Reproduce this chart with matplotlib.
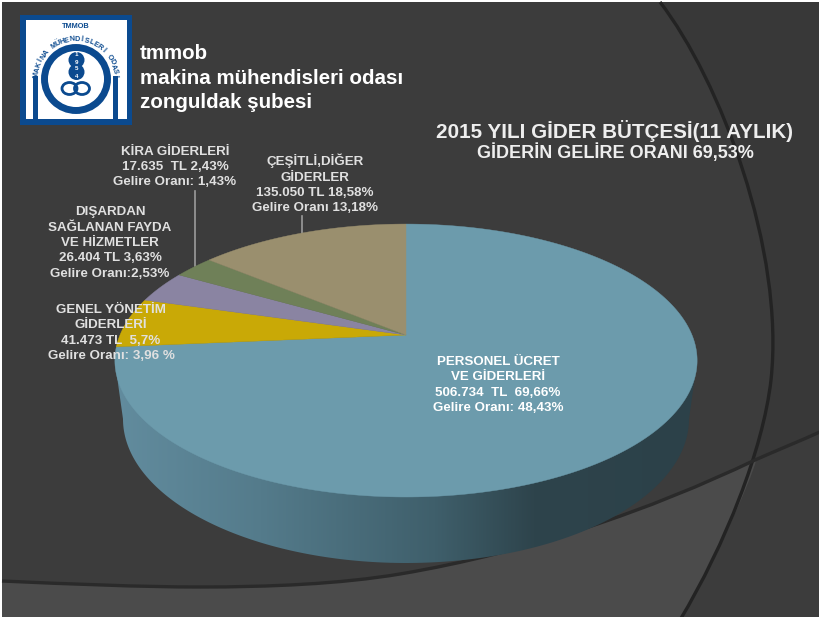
import numpy as np
import matplotlib
matplotlib.use('Agg')
import matplotlib.pyplot as plt
from matplotlib.colors import LinearSegmentedColormap
from matplotlib.patches import Circle, Ellipse, PathPatch, Polygon, Rectangle
from matplotlib.path import Path

plt.rcParams['font.family'] = ['Liberation Sans', 'DejaVu Sans']

# drawn share of each slice (clockwise from 12 o'clock)
categories = ['PERSONEL', 'GENEL YONETIM', 'DISARDAN', 'KIRA', 'CESITLI']
shares = [73.6, 5.9, 3.8, 2.7, 14.0]
slice_colors = ['#6c9bac', '#c9a906', '#8a84a2', '#6f8058', '#9a8f6e']

label_personel = 'PERSONEL ÜCRET\nVE GİDERLERİ\n506.734  TL  69,66%\nGelire Oranı: 48,43%'
label_genel = 'GENEL YÖNETİM\nGİDERLERİ\n41.473 TL  5,7%\nGelire Oranı: 3,96 %'
label_disardan = 'DIŞARDAN\nSAĞLANAN FAYDA\nVE HİZMETLER\n26.404 TL 3,63%\nGelire Oranı:2,53%'
label_kira = 'KİRA GİDERLERİ\n17.635  TL 2,43%\nGelire Oranı: 1,43%'
label_cesitli = 'ÇEŞİTLİ,DİĞER\nGİDERLER\n135.050 TL 18,58%\nGelire Oranı 13,18%'

title_1 = '2015 YILI GİDER BÜTÇESİ(11 AYLIK)'
title_2 = 'GİDERİN GELİRE ORANI 69,53%'
org_lines = 'tmmob\nmakina mühendisleri odası\nzonguldak şubesi'

fig = plt.figure(figsize=(8.19, 6.17), dpi=100, facecolor='white')
ax = fig.add_axes([0, 0, 1, 1])
ax.axis('off')

# background
ax.add_patch(Rectangle((2, 2), 820, 620, fc='#3c3c3c', ec='none', zorder=0))

arc1 = [(660, 2), (720, 80), (785, 250), (771, 380), (763, 450), (725, 545), (680, 620)]
arc2 = [(2, 581), (70, 584), (140, 587), (200, 587), (270, 587), (340, 584), (400, 574),
        (530, 552), (650, 510), (755, 460), (780, 449), (800, 441), (822, 431)]
codes1 = [Path.MOVETO] + [Path.CURVE4] * 6
codes2 = [Path.MOVETO] + [Path.CURVE4] * 12

# darker part right of arc1, lighter part under arc2
right = Path(arc1[:4] + [(755, 460), (822, 431), (822, 2), (660, 2)],
             [Path.MOVETO, Path.CURVE4, Path.CURVE4, Path.CURVE4, Path.LINETO, Path.LINETO, Path.LINETO, Path.CLOSEPOLY])
ax.add_patch(PathPatch(right, fc='#383838', ec='none', zorder=0.5))
light_verts = arc2[:10] + [(763, 450), (725, 545), (680, 620), (2, 620), (2, 581)]
light_codes = codes2[:10] + [Path.CURVE4, Path.CURVE4, Path.CURVE4, Path.LINETO, Path.CLOSEPOLY]
ax.add_patch(PathPatch(Path(light_verts, light_codes), fc='#4b4b4b', ec='none', zorder=0.6))
ax.add_patch(PathPatch(Path(arc1, codes1), fc='none', ec='#232323', lw=2.4, zorder=1))
ax.add_patch(PathPatch(Path(arc2, codes2), fc='none', ec='#2a2a2a', lw=2.4, zorder=1))

# pie side wall
cx, apex_y = 406, 335
R, f, k = 286, 131.7, 0.187


def project(theta):
    # unit circle to screen, near side bigger
    u, v = np.sin(theta), np.cos(theta)
    w = 1 + k * v
    return cx + R * u / w, apex_y - f * v / w


t = np.linspace(0, np.pi, 200)
wall_x = 406 + 283 * np.cos(t)
wall_y = 419 + 144 * np.sin(t)
wall_xy = np.column_stack([np.r_[697, wall_x, 115], np.r_[362, wall_y, 362]])
wall = Polygon(wall_xy, closed=True, fc='none', ec='none', zorder=2)
ax.add_patch(wall)
wall_cmap = LinearSegmentedColormap.from_list('wall', [(0, '#628c9e'), (0.25, '#547b8b'), (0.55, '#3f5f6b'),
                                                       (0.72, '#2e444c'), (1, '#2c4149')])
im = ax.imshow(np.linspace(0, 1, 256)[None, :], extent=(115, 697, 570, 340), cmap=wall_cmap, aspect='auto', zorder=2)
im.set_clip_path(wall)

# pie top
edges = np.radians(np.r_[0, np.cumsum(shares)] / sum(shares) * 360)
for a, b, c in zip(edges[:-1], edges[1:], slice_colors):
    th = np.linspace(a, b, 300)
    px, py = project(th)
    ax.add_patch(Polygon(np.column_stack([np.r_[cx, px], np.r_[apex_y, py]]), closed=True, fc=c, ec=c, lw=0.3, zorder=3))

# leader lines
ax.plot([195, 195], [191, 266], color='#9c9c9c', lw=1.2, zorder=2.5)
ax.plot([302, 302], [216, 234], color='#9c9c9c', lw=1.2, zorder=2.5)

# labels
txt = dict(ha='center', va='center', fontsize=9.6, fontweight='bold', color='#e0e0e0', linespacing=1.38, zorder=5)
ax.text(175, 167, label_kira, **txt)
ax.text(315, 184, label_cesitli, **txt)
ax.text(110, 243, label_disardan, **txt)
ax.text(111, 333, label_genel, **txt)
ax.text(498, 385, label_personel, **{**txt, 'color': 'white'})

ax.text(615, 131, title_1, ha='center', va='center', fontsize=14.9, fontweight='bold', color='#eeeeee', zorder=5)
ax.text(615, 153, title_2, ha='center', va='center', fontsize=13, fontweight='bold', color='#eeeeee', zorder=5)
ax.text(140, 78, org_lines, ha='left', va='center', fontsize=14.8, fontweight='bold', color='white', linespacing=1.35, zorder=5)

# logo
blue = '#0b4a8f'
ax.add_patch(Rectangle((20, 15), 112, 110, fc=blue, ec='none', zorder=6))
ax.add_patch(Rectangle((26, 20), 101, 99, fc='white', ec='none', zorder=6.1))
ax.add_patch(Circle((76, 79), 31.5, fc='none', ec=blue, lw=5, zorder=6.2))
ax.add_patch(Rectangle((33, 76), 5, 44, fc=blue, ec='none', zorder=6.2))
ax.add_patch(Rectangle((113, 76), 5, 44, fc=blue, ec='none', zorder=6.2))
for y in [60, 72]:
    ax.add_patch(Circle((76.5, y), 8, fc=blue, ec='none', zorder=6.3))
for y, d in zip([55, 63, 69, 77], '1954'):
    ax.text(76.5, y, d, ha='center', va='center', fontsize=4.5, fontweight='bold', color='white', zorder=6.4)
for x in [69.5, 82]:
    ax.add_patch(Ellipse((x, 88.5), 15, 12, fc='none', ec=blue, lw=2, zorder=6.3))
ax.text(75.5, 27, 'TMMOB', ha='center', va='center', fontsize=5.3, fontweight='bold', color=blue, zorder=6.4)
arc_text = 'MAKİNA MÜHENDİSLERİ ODASI'
for ang, ch in zip(np.linspace(-84, 86, len(arc_text)), arc_text):
    r = np.radians(ang)
    ax.text(76 + 39.5 * np.sin(r), 79 - 39.5 * np.cos(r), ch, rotation=-ang, rotation_mode='anchor', ha='center',
            va='center', fontsize=5.2, fontweight='bold', color=blue, zorder=6.4)

ax.set_xlim(0, 819)
ax.set_ylim(617, 0)
fig.savefig('out.png', dpi=100, facecolor='white')
